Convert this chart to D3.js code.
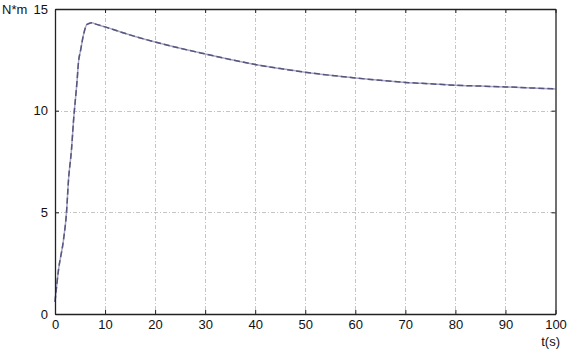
<!DOCTYPE html>
<html>
<head>
<meta charset="utf-8">
<script src="https://cdn.jsdelivr.net/npm/d3@7"></script>
<style>
  html, body { margin: 0; padding: 0; background: #fff; }
  svg { display: block; font-family: "Liberation Sans", Arial, sans-serif; }
</style>
</head>
<body>
<svg id="chart" width="568" height="351"></svg>
<script>
// valeurs
const tValues = [0, 0.7, 1.7, 2.3, 2.7, 3.3, 3.7, 4.4, 4.7, 5.1, 5.7, 6.4, 7.4, 8, 10, 13, 16, 20, 25, 30, 35, 40, 45, 50, 55, 60, 65, 70, 75, 80, 85, 90, 95, 100];
const torque = [0.6, 2.17, 3.65, 5.0, 6.6, 8.1, 9.5, 11.44, 12.4, 12.95, 13.74, 14.24, 14.32, 14.27, 14.12, 13.88, 13.65, 13.38, 13.07, 12.79, 12.52, 12.27, 12.07, 11.89, 11.74, 11.61, 11.49, 11.39, 11.32, 11.25, 11.21, 11.17, 11.12, 11.07];
const xTicks = [0, 10, 20, 30, 40, 50, 60, 70, 80, 90, 100];
const yTicks = [0, 5, 10, 15];

const svg = d3.select("#chart");
const margin = { left: 55, right: 12.5, top: 9, bottom: 37 };
const W = 568, H = 351;

const x = d3.scaleLinear().domain([0, 100]).range([margin.left, W - margin.right]);
const y = d3.scaleLinear().domain([0, 15]).range([H - margin.bottom, margin.top]);

// grille
const grid = svg.append("g")
  .style("stroke", "#c4c4c4")
  .style("stroke-width", 1)
  .style("stroke-dasharray", "4,2,1,2");
grid.selectAll("line.vx").data(xTicks.slice(1, -1)).enter().append("line")
  .attr("x1", d => Math.round(x(d)) + 0.5).attr("x2", d => Math.round(x(d)) + 0.5)
  .attr("y1", y(15)).attr("y2", y(0));
grid.selectAll("line.hy").data(yTicks.slice(1, -1)).enter().append("line")
  .attr("y1", d => Math.round(y(d)) + 0.5).attr("y2", d => Math.round(y(d)) + 0.5)
  .attr("x1", x(0)).attr("x2", x(100));

// courbe
const line = d3.line().x((d, i) => x(tValues[i])).y(d => y(d)).curve(d3.curveMonotoneX);
svg.append("path").datum(torque)
  .attr("d", line)
  .style("fill", "none").style("stroke", "#a8a8c4").style("stroke-width", 1.5);
svg.append("path").datum(torque)
  .attr("d", line)
  .style("fill", "none").style("stroke", "#55557f").style("stroke-width", 1.5)
  .style("stroke-dasharray", "6,3");

// axes
const xAxis = svg.append("g").attr("transform", `translate(0,${y(0)})`)
  .call(d3.axisBottom(x).tickValues(xTicks).tickSize(-4).tickPadding(6).tickSizeOuter(0));
const xAxisTop = svg.append("g").attr("transform", `translate(0,${y(15)})`)
  .call(d3.axisTop(x).tickValues(xTicks).tickSize(-4).tickFormat("").tickSizeOuter(0));
const yAxis = svg.append("g").attr("transform", `translate(${x(0)},0)`)
  .call(d3.axisLeft(y).tickValues(yTicks).tickSize(-4).tickPadding(7).tickSizeOuter(0));
const yAxisRight = svg.append("g").attr("transform", `translate(${x(100)},0)`)
  .call(d3.axisRight(y).tickValues(yTicks).tickSize(-4).tickFormat("").tickSizeOuter(0));

[xAxis, xAxisTop, yAxis, yAxisRight].forEach(a => {
  a.select(".domain").style("stroke", "#222").style("stroke-width", 1.3);
  a.selectAll(".tick line").style("stroke", "#222");
  a.selectAll("text").style("font-size", "13px").style("fill", "#111")
    .style("font-family", "'Liberation Sans', Arial, sans-serif");
});

svg.append("text").attr("x", 2).attr("y", 14)
  .style("font-size", "13px").style("fill", "#111").text("N*m");
svg.append("text").attr("x", W - 8).attr("y", 346)
  .attr("text-anchor", "end")
  .style("font-size", "13px").style("fill", "#111").text("t(s)");
</script>
</body>
</html>
